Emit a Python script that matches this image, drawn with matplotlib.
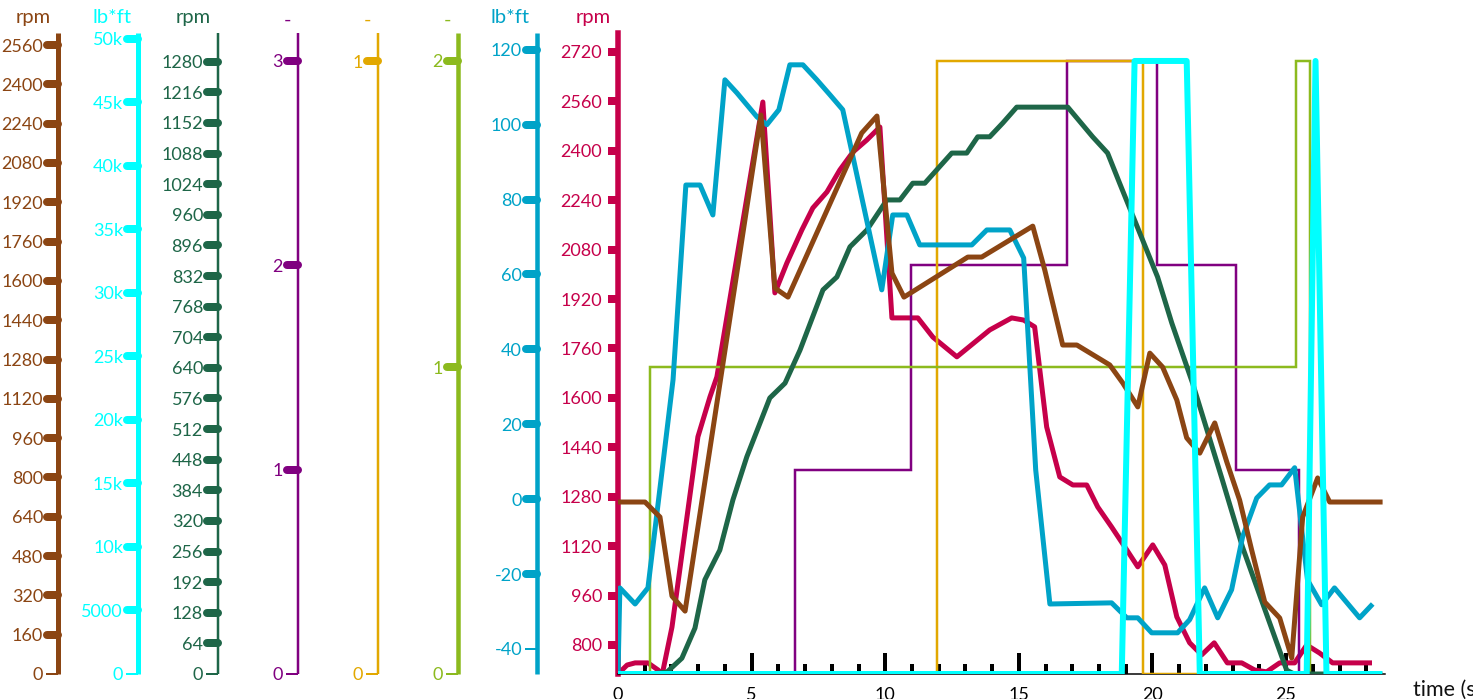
import numpy as np
import matplotlib
matplotlib.use("Agg")
import matplotlib.pyplot as plt
import matplotlib.lines as mlines
from matplotlib.markers import MarkerStyle

plt.rcParams['font.family'] = ['Lato', 'DejaVu Sans']

# ---------------- data ----------------
crimson_t = [0, 0.34, 0.64, 1.12, 1.5, 1.65, 2.02, 2.99, 3.44, 3.70, 5.42, 5.87, 6.32, 6.88, 7.29,
             7.82, 8.30, 8.79, 9.31, 9.80, 10.25, 11.22, 11.78, 12.68, 13.91, 14.73, 15.18, 15.59,
             16.04, 16.53, 17.02, 17.54, 17.95, 18.47, 18.96, 19.45, 20.01, 20.46, 20.91, 21.39,
             21.84, 22.31, 22.8, 23.34, 23.82, 24.27, 24.76, 25.32, 25.77, 26.25, 26.74, 28.12]
crimson_v = [706, 735, 742, 742, 719, 703, 858, 1474, 1603, 1668, 2558, 1940, 2037, 2144, 2215,
             2267, 2338, 2396, 2435, 2477, 1859, 1859, 1797, 1733, 1820, 1859, 1852, 1830,
             1506, 1344, 1318, 1318, 1247, 1182, 1118, 1053, 1124, 1059, 891, 807,
             768, 807, 742, 742, 719, 713, 742, 742, 800, 774, 742, 742]

brown_t = [0, 1.01, 1.57, 2.02, 2.51, 5.35, 5.87, 6.36, 9.12, 9.69, 10.25, 10.7, 13.09, 13.61,
           15.52, 15.97, 16.64, 17.17, 18.4, 18.89, 19.45, 19.9, 20.38, 20.91, 21.28, 21.77,
           22.33, 22.78, 23.26, 23.71, 24.2, 24.76, 25.21, 25.62, 26.18, 26.63, 28.61]
brown_v = [700, 700, 639, 317, 256, 2275, 1571, 1534, 2202, 2271, 1632, 1534, 1697, 1697,
           1823, 1644, 1339, 1339, 1258, 1184, 1087, 1306, 1249, 1115, 961, 899,
           1022, 863, 708, 505, 293, 228, 65, 639, 798, 700, 700]

dkgreen_t = [0, 1.2, 1.83, 2.39, 2.88, 3.25, 3.81, 4.3, 4.82, 5.68, 6.25, 6.81, 7.67, 8.19, 8.68,
             9.31, 10.06, 10.55, 11.03, 11.48, 12.49, 13.05, 13.46, 13.91, 14.4, 14.92, 16.83,
             17.76, 18.32, 18.77, 20.19, 20.72, 21.5, 22.59, 23.37, 24.12, 25.02, 25.3, 28.6]
dkgreen_v = [0, 0, 4, 33, 96, 197, 259, 364, 454, 577, 608, 677, 803, 830, 893,
             928, 991, 991, 1026, 1026, 1089, 1089, 1123, 1123, 1152, 1185, 1185,
             1123, 1089, 1026, 830, 734, 608, 410, 265, 148, 8, 0, 0]

blue_t = [0, 0.07, 0.64, 1.12, 2.06, 2.54, 3.07, 3.55, 4.0, 4.45, 5.2, 5.57, 6.02, 6.43, 6.92,
          7.44, 7.93, 8.41, 9.87, 10.28, 10.81, 11.29, 13.24, 13.8, 14.66, 15.18, 15.63, 16.16,
          18.47, 19.04, 19.45, 19.97, 20.94, 21.39, 21.95, 22.44, 22.96, 23.37, 23.9, 24.38,
          24.83, 25.32, 25.8, 26.33, 26.81, 27.75, 28.24]
blue_v = [-47, -23.7, -28.0, -23.7, 31.9, 83.9, 83.9, 75.9, 112.0, 108.5, 102.1, 100.0, 104.0,
          116.0, 116.0, 112.0, 108.0, 104.0, 55.9, 75.9, 75.9, 67.9, 67.9, 71.9, 71.9, 64.4,
          7.8, -28.0, -27.7, -31.7, -31.7, -35.7, -35.7, -32.2, -23.7, -31.7, -24.2, -10.1,
          0.3, 3.8, 3.8, 8.4, -21.6, -28.2, -23.7, -31.7, -28.0]

purple_t = [0, 6.62, 10.97, 16.8, 20.17, 23.14, 25.5, 28.6]
purple_v = [0, 1, 2, 3, 2, 1, 0, 0]

orange_t = [0, 11.95, 19.63, 28.6]
orange_v = [0, 1, 0, 0]

ygreen_t = [0, 1.18, 25.38, 25.9, 28.6]
ygreen_v = [0, 1, 2, 0, 0]

cyan_t = [0, 18.85, 19.33, 21.28, 21.77, 25.77, 26.1, 26.51, 28.6]
cyan_v = [0, 0, 48270, 48270, 0, 0, 48270, 0, 0]

brown_ticks = list(range(0, 2561, 160))
cyan_ticks = list(range(0, 50001, 5000))
cyan_labels = ['0', '5000'] + [f'{v // 1000}k' for v in cyan_ticks[2:]]
dkgreen_ticks = list(range(0, 1281, 64))
purple_ticks = [0, 1, 2, 3]
orange_ticks = [0, 1]
ygreen_ticks = [0, 1, 2]
blue_ticks = list(range(-40, 121, 20))
crimson_ticks = list(range(800, 2721, 160))
x_major = [0, 5, 10, 15, 20, 25]
x_minor = list(range(0, 29))

units = {'brown': 'rpm', 'cyan': 'lb*ft', 'dkgreen': 'rpm', 'purple': '-',
         'orange': '-', 'ygreen': '-', 'blue': 'lb*ft', 'crimson': 'rpm'}
x_title = 'time (s)'

# ---------------- layout ----------------
W, H = 1473, 699
L, B, R, T = 618, 674, 1385, 33
PX = 0.72  # points per pixel at dpi 100

fig = plt.figure(figsize=(W / 100, H / 100), dpi=100)
main = fig.add_axes([L / W, (H - B) / H, (R - L) / W, (B - T) / H])
main.set_xlim(0, 28.7)

colors = {'brown': '#8B4513', 'cyan': '#00FFFF', 'dkgreen': '#1E6648', 'purple': '#800080',
          'orange': '#E2A800', 'ygreen': '#8CBA1E', 'blue': '#00A3C8', 'crimson': '#C6004A'}

# key, spine x px, spine width px, ylim, ticks, labels, tick len px, first thin, t, v, line lw px, step, zorder
specs = [
    ('brown', 58, 5, (0, 2609), brown_ticks, None, 11, True, brown_t, brown_v, 5, False, 7),
    ('cyan', 138, 5, (0, 50472), cyan_ticks, cyan_labels, 11, True, cyan_t, cyan_v, 6, False, 8),
    ('dkgreen', 218, 2.5, (0, 1340), dkgreen_ticks, None, 11, True, dkgreen_t, dkgreen_v, 5, False, 5),
    ('purple', 298, 2.5, (0, 3.137), purple_ticks, None, 11, True, purple_t, purple_v, 2.5, True, 2),
    ('orange', 378, 2.5, (0, 1.046), orange_ticks, None, 11, True, orange_t, orange_v, 2.5, True, 3),
    ('ygreen', 458, 4.5, (0, 2.091), ygreen_ticks, None, 11, True, ygreen_t, ygreen_v, 2.5, True, 4),
    ('blue', 537, 4.5, (-46.7, 124.5), blue_ticks, None, 11, True, blue_t, blue_v, 5, False, 6),
]

tick_fs = 13

def unit_label(x_px, text, color):
    y_px = 23 if text != '-' else 26
    fig.text(x_px / W, (H - y_px) / H, text, ha='right', va='baseline',
             color=color, fontsize=14.5)

for (key, sx, sw, ylim, ticks, labels, tlen, thin0, tt, vv, lw, step, z) in specs:
    c = colors[key]
    ax = main.twinx()
    ax.set_zorder(z)
    ax.patch.set_visible(False)
    ax.set_ylim(*ylim)
    for s in ('top', 'bottom', 'right'):
        ax.spines[s].set_visible(False)
    ax.spines['left'].set_visible(True)
    ax.spines['left'].set_position(('axes', (sx - L) / (R - L)))
    ax.spines['left'].set_color(c)
    ax.spines['left'].set_linewidth(sw * PX)
    ax.spines['left'].set_capstyle('butt')
    ax.yaxis.tick_left()
    ax.yaxis.set_label_position('left')
    ax.set_yticks(ticks)
    if labels is not None:
        ax.set_yticklabels(labels)
    else:
        ax.set_yticklabels([str(v) for v in ticks])
    ax.tick_params(axis='y', colors=c, length=tlen * PX, width=8 * PX,
                   pad=(15 - tlen) * PX, labelsize=tick_fs, direction='out')
    for i, tk in enumerate(ax.yaxis.get_major_ticks()):
        if thin0 and i == 0:
            tk.tick1line.set_marker(MarkerStyle(mlines.TICKLEFT, capstyle='butt'))
            tk.tick1line.set_markeredgewidth(2 * PX)
            tk.tick1line.set_markersize(12 * PX)
        else:
            tk.tick1line.set_marker(MarkerStyle(mlines.TICKLEFT, capstyle='round'))
    ax.plot(tt, vv, color=c, lw=lw * PX, drawstyle='steps-post' if step else 'default',
            solid_joinstyle='miter' if step else 'round', solid_capstyle='butt')
    unit_label(sx - 7, units[key], c)

# main (crimson) axis
cc = colors['crimson']
main.set_zorder(1)
main.set_ylim(706, 2781.5)
main.plot(crimson_t, crimson_v, color=cc, lw=5 * PX, solid_joinstyle='round')
for s in ('top', 'right'):
    main.spines[s].set_visible(False)
main.spines['left'].set_color(cc)
main.spines['left'].set_linewidth(5.5 * PX)
main.spines['bottom'].set_color('black')
main.spines['bottom'].set_linewidth(1.5 * PX)
main.set_yticks(crimson_ticks)
main.set_yticklabels([str(v) for v in crimson_ticks])
main.tick_params(axis='y', colors=cc, length=10 * PX, width=8 * PX, pad=6 * PX,
                 labelsize=tick_fs, direction='out')
main.set_xticks(x_major)
main.set_xticklabels([str(v) for v in x_major])
main.set_xticks(x_minor, minor=True)
main.tick_params(axis='x', which='major', direction='in', length=21 * PX, width=4 * PX,
                 colors='black', labelsize=tick_fs, pad=9)
main.tick_params(axis='x', which='minor', direction='in', length=10 * PX, width=4 * PX,
                 colors='black')
fig.text(1413 / W, (H - 690) / H, x_title, ha='left', va='center', fontsize=15.5,
         color='#111111')
unit_label(L - 7, units['crimson'], cc)

fig.savefig('out.png', dpi=100)
